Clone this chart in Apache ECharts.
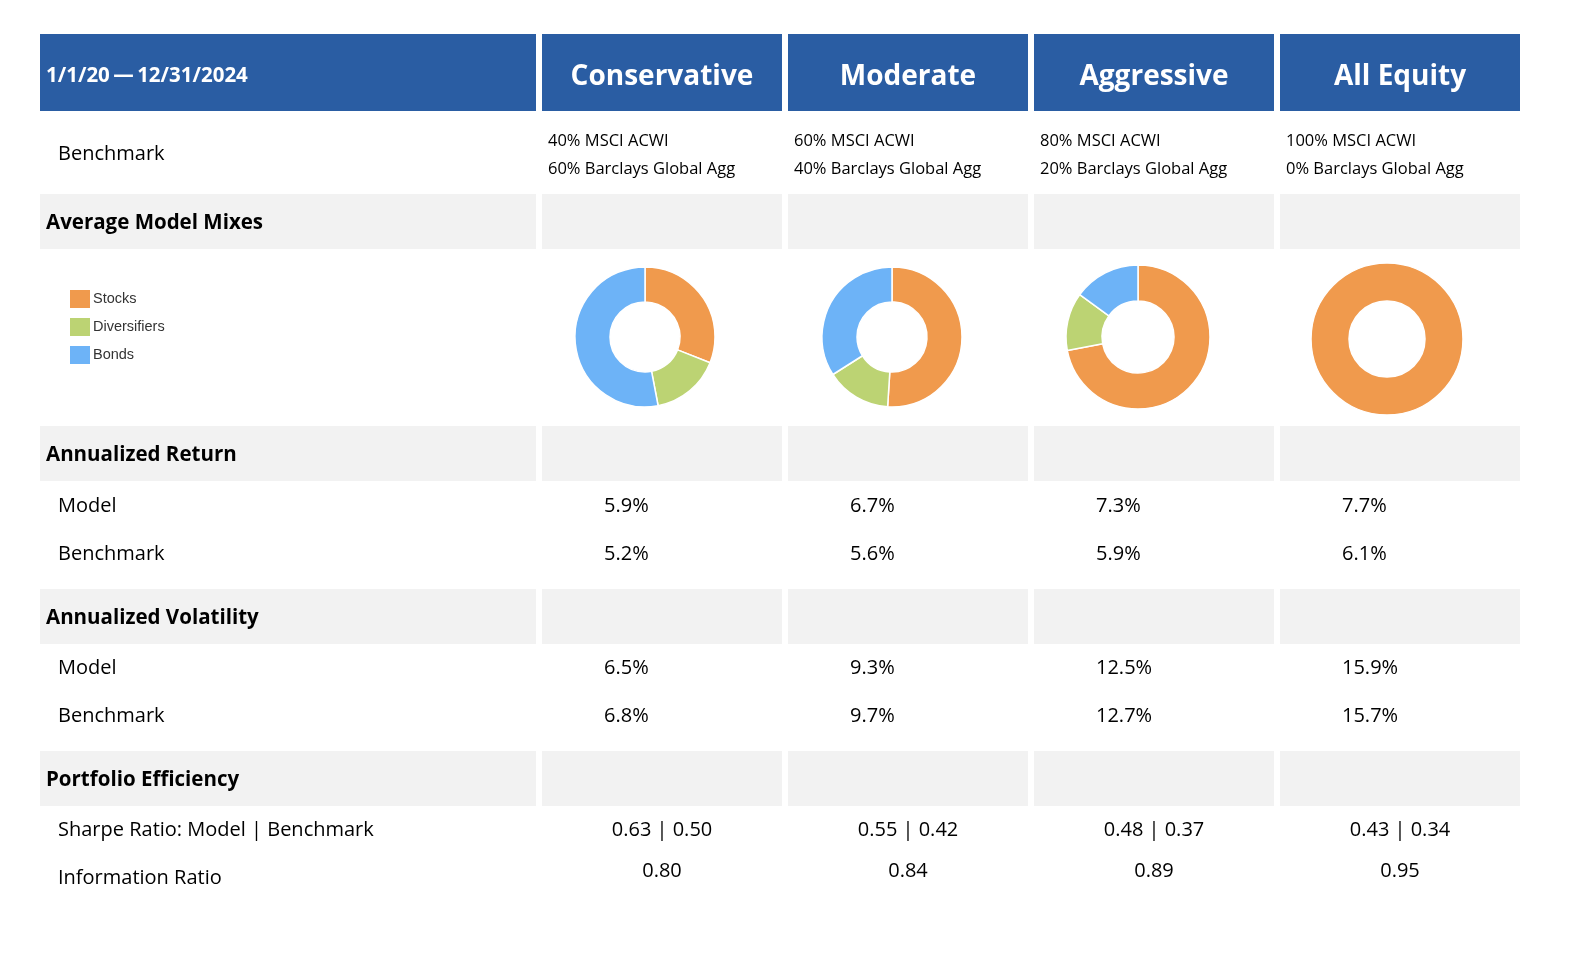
<!DOCTYPE html>
<html>
<head>
<meta charset="utf-8">
<script src="https://cdn.jsdelivr.net/npm/echarts@6/dist/echarts.min.js"></script>
<style>
html,body{margin:0;padding:0;background:#fff;}
#chart{width:1580px;height:958px;}
</style>
</head>
<body>
<div id="chart"></div>
<script>
// ---------- DATA ----------
const periodLabel = '1/1/20\u2009\u2014\u200912/31/2024';
const columns = ['Conservative', 'Moderate', 'Aggressive', 'All Equity'];
const benchmarkLine1 = ['40% MSCI ACWI', '60% MSCI ACWI', '80% MSCI ACWI', '100% MSCI ACWI'];
const benchmarkLine2 = ['60% Barclays Global Agg', '40% Barclays Global Agg', '20% Barclays Global Agg', '0% Barclays Global Agg'];
const mixNames = ['Stocks', 'Diversifiers', 'Bonds'];
const stocks = [31, 51, 72, 100];
const diversifiers = [16, 15, 13, 0];
const bonds = [53, 34, 15, 0];
const returnModel = ['5.9%', '6.7%', '7.3%', '7.7%'];
const returnBenchmark = ['5.2%', '5.6%', '5.9%', '6.1%'];
const volModel = ['6.5%', '9.3%', '12.5%', '15.9%'];
const volBenchmark = ['6.8%', '9.7%', '12.7%', '15.7%'];
const sharpeModel = ['0.63', '0.55', '0.48', '0.43'];
const sharpeBenchmark = ['0.50', '0.42', '0.37', '0.34'];
const infoRatio = ['0.80', '0.84', '0.89', '0.95'];

// ---------- LAYOUT / STYLE ----------
const FONT = '"Open Sans", "Noto Sans", sans-serif';
const BLUE = '#2A5DA3';
const GRAY = '#F2F2F2';
const mixColors = ['#F09A4D', '#BCD373', '#6DB3F7'];
const labelX = 40, labelW = 496;
const colX = [542, 788, 1034, 1280];
const colW = 240;
const pieCenters = [[645, 337], [892, 337], [1138, 337], [1387, 339]];
const pieRadii = [[35, 70], [35, 70], [36, 72], [38, 76]];

const g = [];
function rect(x, y, w, h, fill) {
  g.push({ type: 'rect', shape: { x: x, y: y, width: w, height: h }, style: { fill: fill }, silent: true });
}
function text(x, y, t, size, weight, color, align) {
  g.push({ type: 'text', x: x, y: y, silent: true,
    style: { text: t, fill: color || '#000', font: (weight || 'normal') + ' ' + size + 'px ' + FONT,
      textAlign: align || 'left', textVerticalAlign: 'middle' } });
}

// header
rect(labelX, 34, labelW, 77, BLUE);
text(46, 76, periodLabel, 20.5, 'bold', '#fff');
columns.forEach((c, i) => {
  rect(colX[i], 34, colW, 77, BLUE);
  text(colX[i] + colW / 2, 77, c, 28, 'bold', '#fff', 'center');
});

// benchmark row
text(58, 154, 'Benchmark', 20, 'normal', '#000');
columns.forEach((c, i) => {
  text(colX[i] + 6, 141, benchmarkLine1[i], 16.5, 'normal', '#000');
  text(colX[i] + 6, 169, benchmarkLine2[i], 16.5, 'normal', '#000');
});

function section(y0, label) {
  rect(labelX, y0, labelW, 55, GRAY);
  columns.forEach((c, i) => rect(colX[i], y0, colW, 55, GRAY));
  text(46, y0 + 29, label, 20.5, 'bold', '#000');
}

section(194, 'Average Model Mixes');
section(426, 'Annualized Return');
text(58, 506, 'Model', 20);
text(58, 554, 'Benchmark', 20);
returnModel.forEach((v, i) => text(colX[i] + 62, 506, v, 20));
returnBenchmark.forEach((v, i) => text(colX[i] + 62, 554, v, 20));

section(589, 'Annualized Volatility');
text(58, 668, 'Model', 20);
text(58, 716, 'Benchmark', 20);
volModel.forEach((v, i) => text(colX[i] + 62, 668, v, 20));
volBenchmark.forEach((v, i) => text(colX[i] + 62, 716, v, 20));

section(751, 'Portfolio Efficiency');
text(58, 830, 'Sharpe Ratio: Model | Benchmark', 20);
text(58, 878, 'Information Ratio', 20);
sharpeModel.forEach((v, i) => text(colX[i] + colW / 2, 830, v + ' | ' + sharpeBenchmark[i], 20, 'normal', '#000', 'center'));
infoRatio.forEach((v, i) => text(colX[i] + colW / 2, 871, v, 20, 'normal', '#000', 'center'));

// pies
const series = columns.map((c, i) => {
  const vals = [stocks[i], diversifiers[i], bonds[i]];
  const data = [];
  vals.forEach((v, k) => { if (v > 0) data.push({ name: mixNames[k], value: v, itemStyle: { color: mixColors[k] } }); });
  return {
    type: 'pie', name: c, center: pieCenters[i], radius: pieRadii[i],
    startAngle: 90, clockwise: true, silent: true, animation: false,
    label: { show: false }, labelLine: { show: false },
    itemStyle: { borderColor: '#fff', borderWidth: 1.5 },
    data: data
  };
});

const chart = echarts.init(document.getElementById('chart'), null, { renderer: 'canvas' });
chart.setOption({
  animation: false,
  backgroundColor: '#fff',
  color: mixColors,
  legend: {
    orient: 'vertical', left: 63, top: 283,
    itemWidth: 22, itemHeight: 20, itemGap: 6,
    icon: 'rect', selectedMode: false,
    data: mixNames,
    textStyle: { fontFamily: '"Liberation Sans", Arial, sans-serif', fontSize: 14.5, color: '#333', padding: [0, 0, 0, -3] }
  },
  graphic: { elements: g },
  series: series
});
</script>
</body>
</html>
